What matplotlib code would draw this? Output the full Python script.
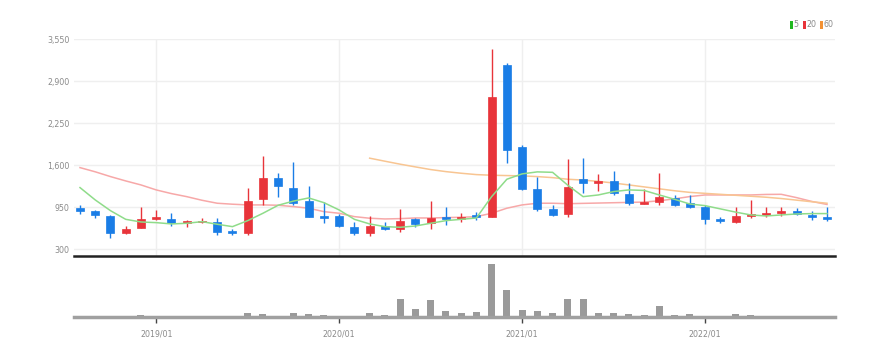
import matplotlib
matplotlib.use("Agg")
import matplotlib.pyplot as plt
from matplotlib.patches import Rectangle
import numpy as np
import pandas as pd

# ---------------- data ----------------
months = [str(p) for p in pd.period_range("2018-08", periods=50, freq="M")]

opens = [940, 895, 820, 548, 635, 765, 770, 700, 715, 720,
         580, 550, 1075, 1405, 1255, 1050, 815, 815, 650, 550,
         660, 610, 770, 705, 800, 770, 830, 805, 3150, 1880,
         1235, 930, 840, 1390, 1320, 1360, 1150, 1005, 1035, 1100,
         1010, 950, 770, 720, 810, 830, 857, 885, 835, 805]
closes = [885, 830, 550, 615, 775, 805, 705, 735, 745, 565,
          545, 1050, 1405, 1285, 1020, 805, 785, 660, 550, 655,
          610, 735, 685, 785, 770, 805, 795, 2660, 1840, 1230,
          920, 835, 1270, 1320, 1350, 1175, 1020, 1030, 1115, 985,
          960, 770, 740, 810, 845, 855, 895, 845, 795, 765]
highs = [985, 900, 825, 665, 950, 900, 855, 760, 790, 790,
         620, 1255, 1735, 1485, 1650, 1285, 1030, 850, 720, 815,
         720, 920, 790, 1050, 950, 855, 870, 3400, 3180, 1910,
         1425, 990, 1695, 1710, 1460, 1515, 1320, 1235, 1475, 1145,
         1140, 985, 800, 950, 1065, 950, 950, 935, 885, 950]
lows = [840, 790, 480, 535, 630, 760, 660, 640, 700, 515,
        520, 525, 990, 1115, 990, 795, 700, 650, 520, 505,
        595, 565, 650, 610, 680, 720, 760, 795, 1630, 1220,
        890, 815, 805, 1165, 1195, 1145, 990, 995, 985, 975,
        945, 690, 700, 700, 790, 795, 820, 830, 760, 740]

ma5 = [1254, 1063, 897, 763, 722, 712, 692, 702, 727, 687,
       650, 743, 857, 981, 1045, 1094, 1021, 908, 763, 692,
       650, 640, 660, 702, 743, 763, 784, 1114, 1383, 1466,
       1497, 1490, 1290, 1114, 1140, 1192, 1218, 1210, 1140, 1073,
       1000, 975, 925, 875, 831, 815, 831, 846, 852, 852]
ma20 = [1563, 1498, 1424, 1357, 1295, 1218, 1161, 1114, 1058, 1012,
        997, 986, 986, 981, 960, 935, 882, 857, 805, 780,
        769, 774, 784, 784, 790, 795, 805, 857, 935, 986,
        1012, 1012, 1005, 1010, 1015, 1020, 1025, 1030, 1050, 1080,
        1115, 1140, 1140, 1140, 1140, 1148, 1150, 1099, 1040, 993]
ma60 = [None] * 19 + [1709, 1662, 1616, 1574, 1533, 1501, 1476, 1455, 1445, 1440,
                      1435, 1424, 1408, 1383, 1370, 1350, 1325, 1295, 1265, 1235,
                      1205, 1180, 1165, 1150, 1135, 1120, 1105, 1085, 1060, 1035,
                      1012]
volumes = [0, 0, 0, 0, 34, 0, 0, 0, 0, 0,
           0, 86, 54, 26, 86, 54, 46, 14, 14, 80,
           46, 366, 154, 346, 120, 86, 106, 1054, 540, 150,
           120, 84, 364, 364, 86, 80, 54, 46, 216, 46,
           54, 8, 6, 54, 46, 20, 20, 20, 20, 20]

yticks = [300, 950, 1600, 2250, 2900, 3550]
xtick_labels = ["2019/01", "2020/01", "2021/01", "2022/01"]
legend_labels = ["5", "20", "60"]

# ---------------- style ----------------
UP = "#e8343a"
DOWN = "#1a7de6"
C5 = "#8fdc8a"
C20 = "#f7a8a8"
C60 = "#f8c592"
LEG = ["#22b822", "#e8343a", "#f39235"]
GRID = "#efefef"
TXT = "#8a8a8a"
FONT = ["Liberation Sans Narrow", "DejaVu Sans"]
plt.rcParams["font.family"] = FONT
plt.rcParams["font.stretch"] = "condensed"

W, H = 888, 356
fig = plt.figure(figsize=(W / 100, H / 100), dpi=100)

x = np.arange(len(months))
px_per = (827 - 80) / (len(months) - 1)
xl = (-(80 - 74) / px_per, (len(months) - 1) + (835 - 827) / px_per)

ax = fig.add_axes([74 / W, (H - 256) / H, (835 - 74) / W, (256 - 39) / H])
axv = fig.add_axes([74 / W, (H - 317) / H, (835 - 74) / W, (317 - 260) / H])

# price panel
ax.set_xlim(*xl)
ax.set_ylim(196, 3552)
for v in yticks:
    ax.axhline(v, color=GRID, lw=1, zorder=0)
tick_pos = [months.index(lbl.replace("/", "-")) for lbl in xtick_labels]
for p in tick_pos:
    ax.axvline(p, color=GRID, lw=1, zorder=0)

bw = 8 / px_per
for i in range(len(months)):
    o, c, h, l = opens[i], closes[i], highs[i], lows[i]
    col = UP if c >= o else DOWN
    ax.vlines(x[i], l, h, color=col, lw=1, zorder=3)
    bot = min(o, c)
    ht = max(abs(c - o), 12)
    ax.add_patch(Rectangle((x[i] - bw / 2, bot), bw, ht, facecolor=col,
                           edgecolor=col, lw=0.5, zorder=4))

ax.plot(x, ma20, color=C20, lw=1.1, zorder=2)
ma60_arr = np.array([np.nan if v is None else v for v in ma60], dtype=float)
ax.plot(x, ma60_arr, color=C60, lw=1.1, zorder=2)
ax.plot(x, ma5, color=C5, lw=1.1, zorder=5)

ax.set_yticks(yticks)
ax.set_yticklabels([f"{v:,}" for v in yticks], fontsize=6.3, color=TXT)
ax.tick_params(axis="y", length=0, pad=3)
ax.set_xticks([])
for s in ["top", "right", "left"]:
    ax.spines[s].set_visible(False)
ax.spines["bottom"].set_color("#222222")
ax.spines["bottom"].set_linewidth(1.8)

# volume panel
axv.set_xlim(*xl)
axv.set_ylim(0, max(volumes) * 57 / 52.7)
axv.bar(x, volumes, width=7 / px_per, color="#9a9a9a", zorder=2)
axv.set_yticks([])
axv.set_xticks(tick_pos)
axv.set_xticklabels(xtick_labels, fontsize=6.3, color=TXT)
axv.tick_params(axis="x", length=4, width=1, color="#444444", pad=5)
for s in ["top", "right", "left"]:
    axv.spines[s].set_visible(False)
axv.spines["bottom"].set_color("#a0a0a0")
axv.spines["bottom"].set_linewidth(2.5)
axv.patch.set_alpha(0)

# legend (top right)
lx = [790, 803, 820]
for k, lbl in enumerate(legend_labels):
    fig.patches.append(Rectangle((lx[k] / W, (H - 28.5) / H), 3 / W, 7.5 / H,
                                 transform=fig.transFigure, facecolor=LEG[k],
                                 edgecolor="none"))
    fig.text((lx[k] + 3.8) / W, (H - 24.8) / H, lbl, fontsize=6.3, color=TXT,
             ha="left", va="center")

fig.savefig("out.png", dpi=100, facecolor="white")
